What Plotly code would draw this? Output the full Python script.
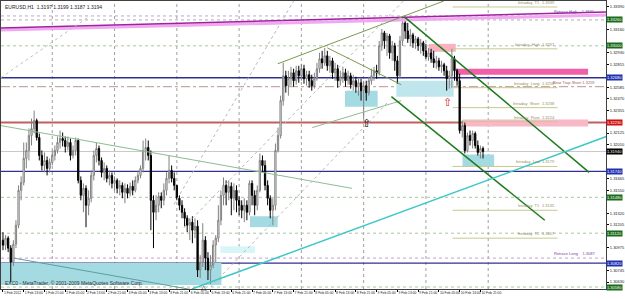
import plotly.graph_objects as go

# ---------------- data (EURUSD H1, bar index 0 = 1 Feb 2012 05:00) ----------------
open_ = [1.3105,1.3100,1.3107,1.3097,1.3083,1.3101,1.3120,1.3155,1.3163,1.3187,1.3195,1.3210,1.3217,1.3225,1.3208,1.3190,1.3180,1.3185,1.3177,
 1.3183,1.3190,1.3195,1.3203,1.3207,1.3205,1.3199,1.3203,1.3190,1.3195,1.3205,1.3165,1.3150,1.3157,1.3140,1.3147,1.3170,1.3190,1.3197,1.3185,1.3173,1.3177,1.3167,1.3170,
 1.3162,1.3165,1.3157,1.3160,1.3153,1.3157,1.3152,1.3159,1.3155,1.3165,1.3170,1.3177,1.3195,1.3198,1.3190,1.3145,1.3133,1.3140,1.3149,1.3145,1.3155,1.3167,1.3175,1.3167,
 1.3160,1.3147,1.3140,1.3133,1.3127,1.3120,1.3123,1.3115,1.3119,1.3075,1.3083,1.3105,1.3087,1.3075,1.3080,1.3100,1.3107,1.3125,1.3150,1.3160,1.3153,1.3159,1.3147,1.3155,
 1.3145,1.3140,1.3135,1.3140,1.3133,1.3162,1.3150,1.3140,1.3155,1.3185,1.3180,1.3160,1.3147,1.3135,1.3140,1.3195,1.3210,1.3245,1.3270,1.3260,1.3267,1.3273,1.3265,1.3275,
 1.3270,1.3277,1.3267,1.3271,1.3265,1.3260,1.3267,1.3277,1.3287,1.3283,1.3290,1.3280,1.3285,1.3273,1.3277,1.3265,1.3269,1.3273,1.3265,1.3270,1.3261,1.3265,1.3259,1.3263,
 1.3255,1.3260,1.3253,1.3265,1.3270,1.3275,1.3273,1.3300,1.3313,1.3305,1.3310,1.3293,1.3300,1.3285,1.3270,1.3305,1.3323,1.3315,1.3307,1.3311,1.3303,1.3307,1.3300,1.3303,
 1.3295,1.3289,1.3293,1.3287,1.3283,1.3285,1.3279,1.3281,1.3275,1.3267,1.3270,1.3287,1.3275,1.3265,1.3215,1.3220,1.3195,1.3210,1.3205,1.3212,1.3200,1.3193,1.3197]

high = [1.3113,1.3110,1.3109,1.3100,1.3105,1.3125,1.3160,1.3169,1.3203,1.3203,1.3217,1.3227,1.3235,1.3227,1.3212,1.3195,1.3193,1.3189,1.3187,
 1.3195,1.3200,1.3209,1.3215,1.3213,1.3209,1.3209,1.3207,1.3200,1.3208,1.3207,1.3169,1.3162,1.3160,1.3155,1.3175,1.3195,1.3203,1.3200,1.3188,1.3183,1.3180,1.3175,1.3173,
 1.3169,1.3167,1.3165,1.3163,1.3162,1.3161,1.3163,1.3165,1.3169,1.3175,1.3180,1.3205,1.3207,1.3205,1.3195,1.3150,1.3150,1.3153,1.3153,1.3162,1.3173,1.3190,1.3180,1.3173,
 1.3160,1.3150,1.3145,1.3137,1.3130,1.3127,1.3129,1.3127,1.3125,1.3090,1.3122,1.3109,1.3093,1.3090,1.3105,1.3110,1.3140,1.3155,1.3168,1.3165,1.3165,1.3163,1.3162,1.3160,
 1.3149,1.3145,1.3147,1.3145,1.3165,1.3165,1.3155,1.3160,1.3192,1.3190,1.3185,1.3165,1.3150,1.3147,1.3202,1.3218,1.3250,1.3283,1.3275,1.3275,1.3279,1.3277,1.3280,1.3280,
 1.3282,1.3281,1.3275,1.3275,1.3271,1.3273,1.3283,1.3293,1.3295,1.3298,1.3295,1.3290,1.3288,1.3283,1.3281,1.3275,1.3279,1.3277,1.3275,1.3273,1.3271,1.3269,1.3267,1.3267,
 1.3265,1.3265,1.3269,1.3277,1.3279,1.3281,1.3305,1.3317,1.3315,1.3313,1.3312,1.3305,1.3303,1.3290,1.3310,1.3330,1.3328,1.3323,1.3317,1.3313,1.3310,1.3309,1.3307,1.3305,
 1.3302,1.3298,1.3297,1.3295,1.3290,1.3288,1.3285,1.3283,1.3280,1.3275,1.3297,1.3290,1.3277,1.3272,1.3225,1.3223,1.3213,1.3215,1.3215,1.3214,1.3205,1.3200,1.3199]

low = [1.3095,1.3095,1.3093,1.3063,1.3079,1.3097,1.3117,1.3145,1.3160,1.3177,1.3185,1.3200,1.3212,1.3205,1.3185,1.3175,1.3173,1.3170,1.3173,
 1.3180,1.3185,1.3192,1.3197,1.3199,1.3193,1.3195,1.3185,1.3187,1.3190,1.3162,1.3145,1.3133,1.3118,1.3130,1.3143,1.3165,1.3183,1.3180,1.3168,1.3165,1.3163,1.3160,1.3157,
 1.3155,1.3152,1.3150,1.3147,1.3142,1.3147,1.3149,1.3150,1.3153,1.3162,1.3167,1.3173,1.3185,1.3185,1.3115,1.3097,1.3125,1.3133,1.3137,1.3140,1.3150,1.3162,1.3163,1.3155,
 1.3145,1.3135,1.3127,1.3118,1.3113,1.3105,1.3102,1.3107,1.3068,1.3067,1.3078,1.3075,1.3065,1.3061,1.3077,1.3083,1.3103,1.3120,1.3140,1.3140,1.3145,1.3130,1.3135,1.3133,
 1.3130,1.3127,1.3123,1.3125,1.3130,1.3140,1.3130,1.3135,1.3153,1.3173,1.3155,1.3140,1.3127,1.3120,1.3135,1.3193,1.3207,1.3240,1.3253,1.3250,1.3260,1.3259,1.3261,1.3263,
 1.3265,1.3262,1.3260,1.3258,1.3255,1.3257,1.3265,1.3273,1.3277,1.3280,1.3275,1.3273,1.3267,1.3265,1.3258,1.3260,1.3263,1.3259,1.3261,1.3257,1.3255,1.3253,1.3250,1.3245,
 1.3227,1.3245,1.3250,1.3261,1.3265,1.3267,1.3270,1.3295,1.3297,1.3290,1.3287,1.3285,1.3275,1.3262,1.3267,1.3300,1.3307,1.3303,1.3300,1.3298,1.3297,1.3295,1.3292,1.3290,
 1.3287,1.3285,1.3283,1.3278,1.3277,1.3275,1.3273,1.3270,1.3255,1.3257,1.3258,1.3265,1.3260,1.3212,1.3208,1.3192,1.3193,1.3200,1.3197,1.3197,1.3190,1.3187,1.3187]

close = [1.3100,1.3107,1.3097,1.3083,1.3101,1.3120,1.3155,1.3163,1.3187,1.3195,1.3210,1.3217,1.3225,1.3208,1.3190,1.3180,1.3185,1.3177,1.3183,
 1.3190,1.3195,1.3203,1.3207,1.3205,1.3199,1.3203,1.3190,1.3195,1.3205,1.3165,1.3150,1.3157,1.3140,1.3147,1.3170,1.3190,1.3197,1.3185,1.3173,1.3177,1.3167,1.3170,1.3162,
 1.3165,1.3157,1.3160,1.3153,1.3157,1.3152,1.3159,1.3155,1.3165,1.3170,1.3177,1.3195,1.3198,1.3190,1.3145,1.3133,1.3140,1.3149,1.3145,1.3155,1.3167,1.3175,1.3167,1.3160,
 1.3147,1.3140,1.3133,1.3127,1.3120,1.3123,1.3115,1.3119,1.3075,1.3083,1.3105,1.3087,1.3075,1.3080,1.3100,1.3107,1.3125,1.3150,1.3160,1.3153,1.3159,1.3147,1.3155,1.3145,
 1.3140,1.3135,1.3140,1.3133,1.3162,1.3150,1.3140,1.3155,1.3185,1.3180,1.3160,1.3147,1.3135,1.3140,1.3195,1.3210,1.3245,1.3270,1.3260,1.3267,1.3273,1.3265,1.3275,1.3270,
 1.3277,1.3267,1.3271,1.3265,1.3260,1.3267,1.3277,1.3287,1.3283,1.3290,1.3280,1.3285,1.3273,1.3277,1.3265,1.3269,1.3273,1.3265,1.3270,1.3261,1.3265,1.3259,1.3263,1.3255,
 1.3260,1.3253,1.3265,1.3270,1.3275,1.3273,1.3300,1.3313,1.3305,1.3310,1.3293,1.3300,1.3285,1.3270,1.3305,1.3323,1.3315,1.3307,1.3311,1.3303,1.3307,1.3300,1.3303,1.3295,
 1.3289,1.3293,1.3287,1.3283,1.3285,1.3279,1.3281,1.3275,1.3267,1.3270,1.3287,1.3275,1.3265,1.3215,1.3220,1.3195,1.3210,1.3205,1.3212,1.3200,1.3193,1.3197,1.3194]

bars = list(range(len(close)))

# time-axis labels (every 8 bars)
time_labels = ["1 Feb 2012","1 Feb 13:00","1 Feb 21:00","2 Feb 05:00","2 Feb 13:00","2 Feb 21:00",
               "3 Feb 05:00","3 Feb 13:00","3 Feb 21:00","6 Feb 05:00","6 Feb 13:00","6 Feb 21:00",
               "7 Feb 05:00","7 Feb 13:00","7 Feb 21:00","8 Feb 05:00","8 Feb 13:00","8 Feb 21:00",
               "9 Feb 05:00","9 Feb 13:00","9 Feb 21:00","10 Feb 05:00","10 Feb 13:00","10 Feb 21:00"]
time_label_bars = [0,8,16,24,32,40,48,56,64,72,80,88,96,104,112,120,128,136,144,152,160,168,176,184]
day_start_bars = [19,43,67,91,115,139,163,187]

# price-axis tick labels
price_ticks = [1.30630,1.30745,1.30975,1.31205,1.31320,1.31550,1.31665,1.32010,1.32125,
               1.32355,1.32470,1.32585,1.32815,1.32930,1.33160,1.33390]

# horizontal levels: (price, colour, width, dash, axis-box colour)
h_levels = [
    (1.3330, "#c8a0d8", 1, "dot", None),
    (1.3326, "#b0b0b0", 1, "dot", "#1a6b1a"),
    (1.3300, "#a8c8a0", 1, "dot", "#1a6b1a"),
    (1.3268, "#303090", 1.3, "solid", "#2030b0"),
    (1.3259, "#c09090", 1, "dashdot", None),
    (1.3223, "#c06060", 2, "solid", "#d01010"),
    (1.3194, "#c8c8c8", 1, "solid", "#000000"),
    (1.3174, "#303090", 1.3, "solid", "#2030b0"),
    (1.3148, "#a8c8a0", 1, "dot", "#1a6b1a"),
    (1.3112, "#a8c8a0", 1, "dot", "#1a6b1a"),
    (1.3087, "#c8a0d8", 1, "dot", None),
    (1.3082, "#303090", 1.3, "solid", "#2030b0"),
    (1.3058, "#a8c8a0", 1, "dot", "#1a6b1a"),
]

# trend lines: (bar0, price0, bar1, price1, colour, width, dash)
trendlines = [
    (-0.8, 1.3316, 232.5, 1.3331, "#f0a8f0", 3, "solid"),
    (-0.8, 1.3318, 232.5, 1.3334, "#a020a0", 1.5, "solid"),
    (-0.8, 1.3268, 33.5, 1.3330, "#c0c0c0", 1, "dot"),
    (-0.8, 1.3220, 134.5, 1.3157, "#8fbc8f", 1, "solid"),
    (105.9, 1.3282, 169.9, 1.3345, "#7a9a50", 1, "solid"),
    (119.2, 1.3218, 153.5, 1.3245, "#8fbc8f", 1, "solid"),
    (125.0, 1.3298, 153.5, 1.3261, "#7a9a50", 1, "solid"),
    (154.7, 1.3329, 225.9, 1.3173, "#1e7b1e", 1.5, "solid"),
    (149.7, 1.3249, 208.8, 1.3125, "#1e7b1e", 1.5, "solid"),
    (72.8, 1.3056, 232.5, 1.3209, "#40c8c8", 1.5, "solid"),
    (4.2, 1.3087, 73.5, 1.3055, "#5f9ea0", 1, "solid"),
    (69.7, 1.3118, 155.4, 1.3348, "#b8b8b8", 1, "dot"),
    (80.0, 1.3058, 148.9, 1.3245, "#b8b8b8", 1, "dot"),
    (65.9, 1.3141, 112.0, 1.3345, "#b8b8b8", 1, "dot"),
]

# zones: (bar0, bar1, price_top, price_bottom, colour)
zones = [
    (-0.8, 84.2, 1.3082, 1.3060, "#a4dbe2"),
    (83.8, 97.1, 1.3099, 1.3092, "#d8f6f8"),
    (95.2, 105.9, 1.3129, 1.3118, "#a4dbe2"),
    (131.8, 144.4, 1.3255, 1.3239, "#a4dbe2"),
    (151.6, 173.7, 1.3265, 1.3249, "#bfe6ec"),
    (177.1, 189.3, 1.3191, 1.3179, "#a4dbe2"),
    (164.2, 174.5, 1.3302, 1.3294, "#f7b3c0"),
    (174.5, 225.5, 1.3277, 1.3271, "#f060a8"),
    (177.1, 225.5, 1.3226, 1.3219, "#f8b8c8"),
]

# intraday levels: (price, name)
intraday = [(1.3339, "Intraday  T1"), (1.3297, "Intraday  High"), (1.3258, "Intraday  Long"),
            (1.3238, "Intraday  Short"), (1.3224, "Intraday  Pivot"), (1.3179, "Intraday  Low"),
            (1.3135, "Intraday  T1"), (1.3107, "Intraday  T2")]
intraday_bars = (173.3, 213.7)

fig = go.Figure()
fig.add_trace(go.Candlestick(
    x=bars, open=open_, high=high, low=low, close=close,
    increasing=dict(fillcolor="white", line=dict(color="#808080", width=1)),
    decreasing=dict(fillcolor="black", line=dict(color="#000000", width=1)),
    whiskerwidth=0, showlegend=False, hoverinfo="skip"))

shapes = []
for b in day_start_bars:
    shapes.append(dict(type="line", xref="x", yref="paper", x0=b, x1=b, y0=0, y1=1,
                       line=dict(color="#a0a0a0", width=1, dash="dot"), layer="below"))
for (b0, b1, pt, pb, col) in zones:
    shapes.append(dict(type="rect", xref="x", yref="y", x0=b0, x1=b1, y0=pb, y1=pt,
                       fillcolor=col, line=dict(width=0), layer="below"))
for (p, col, w, d, box) in h_levels:
    shapes.append(dict(type="line", xref="paper", yref="y", x0=0, x1=1, y0=p, y1=p,
                       line=dict(color=col, width=w, dash=d), layer="below"))
for (p, name) in intraday:
    shapes.append(dict(type="line", xref="x", yref="y", x0=intraday_bars[0], x1=intraday_bars[1],
                       y0=p, y1=p, line=dict(color="#c8c890", width=1), layer="below"))
for (b0, p0, b1, p1, col, w, d) in trendlines:
    shapes.append(dict(type="line", xref="x", yref="y", x0=b0, x1=b1, y0=p0, y1=p1,
                       line=dict(color=col, width=w, dash=d)))

annotations = []
annotations.append(dict(xref="paper", yref="paper", x=0.004, y=0.998, xanchor="left", yanchor="top",
                        text="EURUSD,H1  %.4f %.4f %.4f %.4f" % (open_[-1], high[-1], low[-1], close[-1]),
                        showarrow=False, font=dict(size=5, color="#202020", family="Arial")))
annotations.append(dict(xref="paper", yref="paper", x=0.004, y=0.005, xanchor="left", yanchor="bottom",
                        text="EXC0 - MetaTrader, \u00a9 2001-2009 MetaQuotes Software Corp.",
                        showarrow=False, font=dict(size=5, color="#303030", family="Arial")))
for (p, name) in intraday:
    annotations.append(dict(xref="x", yref="y", x=intraday_bars[1] - 6, y=p, xanchor="right", yanchor="bottom",
                            text=name, showarrow=False, font=dict(size=4, color="#909060", family="Arial")))
    annotations.append(dict(xref="x", yref="y", x=intraday_bars[1], y=p, xanchor="right", yanchor="bottom",
                            text="%.4f" % p, showarrow=False, font=dict(size=4, color="#909060", family="Arial")))
for (txt, b, p, col) in [("Retrace High    %.4f" % 1.3330, 229, 1.3330, "#8040a0"),
                         ("Bear Trap Short %.4f" % 1.3259, 229, 1.3259, "#a06060"),
                         ("Retrace Long    %.4f" % 1.3087, 229, 1.3087, "#8040a0")]:
    annotations.append(dict(xref="x", yref="y", x=b, y=p, xanchor="right", yanchor="bottom", text=txt,
                            showarrow=False, font=dict(size=4, color=col, family="Arial")))
for (p, col, w, d, box) in h_levels:
    if box:
        annotations.append(dict(xref="paper", yref="y", x=1.0, y=p, xanchor="left", yanchor="middle",
                                text="%.5f" % p, showarrow=False, bgcolor=box, borderpad=0,
                                font=dict(size=4, color="white", family="Arial")))
# arrows
annotations.append(dict(xref="x", yref="y", x=171.5, y=1.3244, text="\u21e7", showarrow=False,
                        font=dict(size=11, color="#d02020")))
annotations.append(dict(xref="x", yref="y", x=140.2, y=1.3223, text="\u21e7", showarrow=False,
                        font=dict(size=11, color="#000000")))
annotations.append(dict(xref="x", yref="y", x=77.3, y=1.3058, text="\u25b3", showarrow=False,
                        font=dict(size=7, color="#000000")))

fig.update_layout(
    width=625, height=299, margin=dict(l=0, r=13, t=0, b=10),
    paper_bgcolor="white", plot_bgcolor="white",
    shapes=shapes, annotations=annotations,
    xaxis=dict(range=[-0.76, 232.4], rangeslider=dict(visible=False), showgrid=False, zeroline=False,
               tickmode="array", tickvals=time_label_bars, ticktext=time_labels, tickangle=0,
               ticklabelposition="outside right", ticks="outside", ticklen=2, tickcolor="#000",
               tickfont=dict(size=3.4, color="#202020", family="Arial"),
               showline=True, linecolor="#404040", mirror=True),
    yaxis=dict(range=[1.3056, 1.3345], side="right", showgrid=False, zeroline=False,
               tickmode="array", tickvals=price_ticks, ticktext=["%.5f" % v for v in price_ticks],
               ticks="outside", ticklen=2, tickcolor="#000",
               tickfont=dict(size=4, color="#202020", family="Arial"),
               showline=True, linecolor="#404040", mirror=True),
)

fig.write_html("out.html")
